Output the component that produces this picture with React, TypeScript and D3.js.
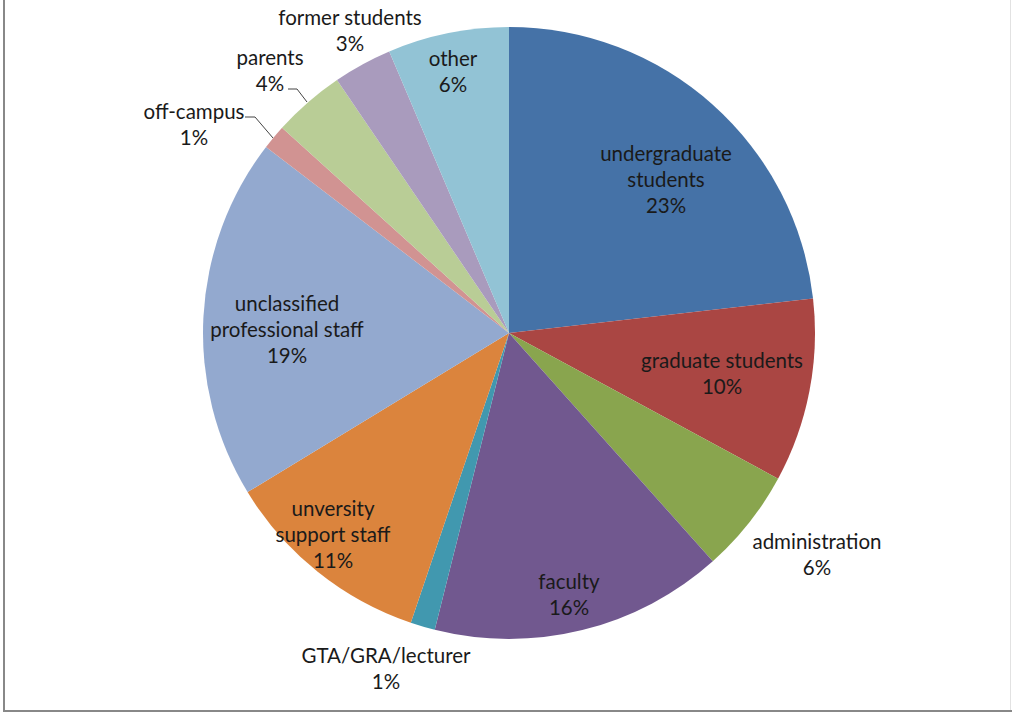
import React from "react";
import * as d3 from "d3";

const categories = [
  "undergraduate students",
  "graduate students",
  "administration",
  "faculty",
  "GTA/GRA/lecturer",
  "unversity support staff",
  "unclassified professional staff",
  "off-campus",
  "parents",
  "former students",
  "other",
];
const values = [23.2, 9.7, 5.5, 15.5, 1.3, 11.1, 19.1, 1.3, 3.8, 3.1, 6.4];
const percentLabels = ["23%", "10%", "6%", "16%", "1%", "11%", "19%", "1%", "4%", "3%", "6%"];
const labelLines = [
  ["undergraduate", "students", "23%"],
  ["graduate students", "10%"],
  ["administration", "6%"],
  ["faculty", "16%"],
  ["GTA/GRA/lecturer", "1%"],
  ["unversity", "support staff", "11%"],
  ["unclassified", "professional staff", "19%"],
  ["off-campus", "1%"],
  ["parents", "4%"],
  ["former students", "3%"],
  ["other", "6%"],
];
const colors = [
  "#4572A7", "#AA4643", "#89A54E", "#71588F", "#4198AF", "#DB843D",
  "#93A9CF", "#D19392", "#B9CD96", "#A99BBD", "#92C3D5",
];
// label centers (first line), relative to pie center
const labelAnchors: [number, number][] = [
  [157, -179], [213, 28], [308, 209], [60, 249], [-123, 323], [-176, 176],
  [-222, -29], [-315, -221], [-239, -275], [-159, -315], [-56, -274],
];
const leaders: ([number, number][] | null)[] = [
  null, null, null, null, null, null, null,
  [[-264, -216], [-254, -216], [-236, -195]],
  [[-221, -244], [-212, -244], [-202, -231]],
  null, null,
];

export default function App() {
  const W = 1012, H = 713;
  const cx = 509, cy = 333, r = 306;
  const pie = d3.pie<number>().sort(null).value((d) => d)(values);
  const arc = d3.arc<d3.PieArcDatum<number>>().innerRadius(0).outerRadius(r);
  const lh = 26;
  return (
    <svg width={W} height={H} style={{ position: "absolute", left: 0, top: 0, background: "#fff" }}
      fontFamily="Lato, 'Open Sans', sans-serif">
      <rect x={0} y={0} width={W} height={H} fill="#fff" />
      <line x1={4} y1={0} x2={4} y2={712} stroke="#888" strokeWidth={2} />
      <line x1={3} y1={711} x2={W} y2={711} stroke="#888" strokeWidth={2} />
      <line x1={1010.5} y1={0} x2={1010.5} y2={710} stroke="#e2e2e2" strokeWidth={1} />
      <g transform={`translate(${cx},${cy})`}>
        {pie.map((p, i) => (
          <path key={categories[i]} d={arc(p) || ""} fill={colors[i]} />
        ))}
        {leaders.map((l, i) =>
          l ? (
            <polyline key={"l" + i} points={l.map((q) => q.join(",")).join(" ")}
              fill="none" stroke="#444" strokeWidth={1} />
          ) : null
        )}
        {labelLines.map((lines, i) => (
          <text key={"t" + i} textAnchor="middle" fontSize={20.5} fill="#1a1a1a">
            {lines.map((s, j) => (
              <tspan key={j} x={labelAnchors[i][0]} y={labelAnchors[i][1] + j * lh} dy="0.35em">
                {j === lines.length - 1 ? percentLabels[i] : s}
              </tspan>
            ))}
          </text>
        ))}
      </g>
    </svg>
  );
}
